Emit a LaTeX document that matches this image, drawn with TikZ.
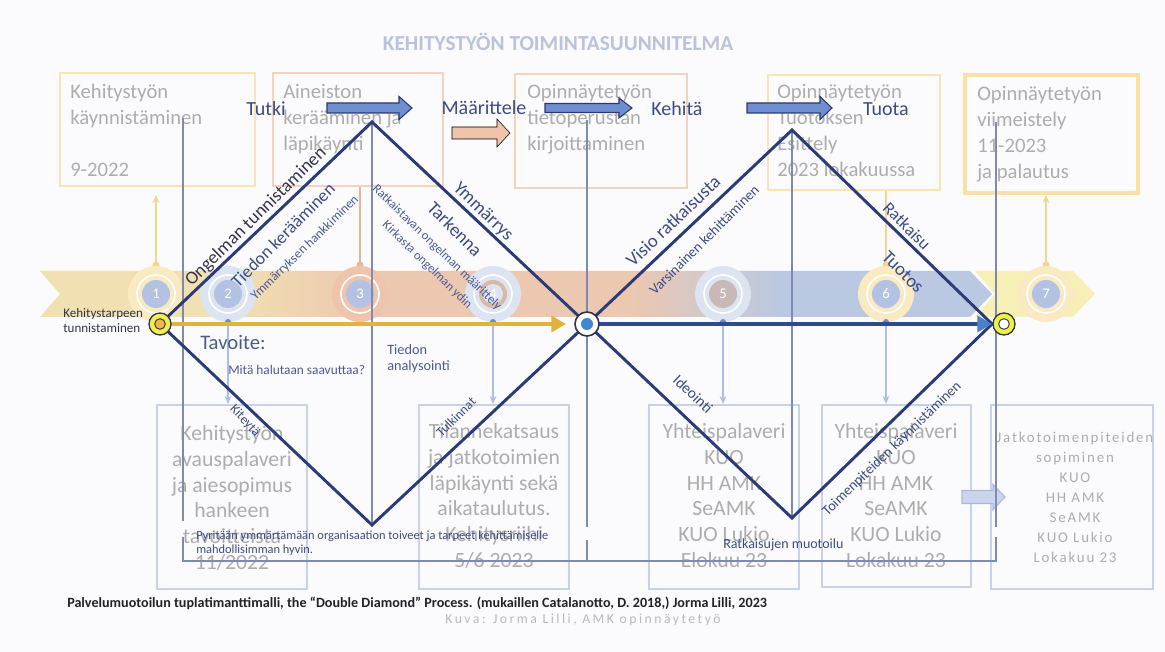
\documentclass[tikz,border=0pt]{standalone}
\usepackage{fontspec}
\setmainfont{Carlito}
\newfontfamily\spacedfont[LetterSpace=12]{Carlito}
\newfontfamily\kuvafont[LetterSpace=18]{Carlito}
\usetikzlibrary{arrows.meta}
\definecolor{bgc}{HTML}{FBFBFD}
\definecolor{navy}{HTML}{2C3A78}
\definecolor{thinl}{HTML}{7D8BB0}
\definecolor{boxtxt}{HTML}{ADADAD}
\definecolor{yelbox}{HTML}{F8E5B6}
\definecolor{yelbox2}{HTML}{F7E1A6}
\definecolor{peachbox}{HTML}{F3D2BE}
\definecolor{bluebox}{HTML}{C6D1EA}
\definecolor{titlec}{HTML}{B9C3DC}
\definecolor{lblc}{HTML}{3D4B86}
\definecolor{lblc2}{HTML}{4A5A98}
\definecolor{darklbl}{HTML}{33364A}
\definecolor{softlbl}{HTML}{4E5C8C}
\definecolor{bandY}{HTML}{F1E0B2}
\definecolor{bandP}{HTML}{ECC8B0}
\definecolor{bandB}{HTML}{BAC8E2}
\definecolor{bandY2}{HTML}{F6EFB6}
\definecolor{ringY}{HTML}{F9EAC2}
\definecolor{ringP}{HTML}{EEC4AC}
\definecolor{ringB}{HTML}{DCE4F2}
\definecolor{discB}{HTML}{B3C2E2}
\definecolor{discP}{HTML}{D9B8A4}
\definecolor{discG}{HTML}{C8B9B8}
\definecolor{stemY}{HTML}{F3D78E}
\definecolor{stemP}{HTML}{E9B598}
\definecolor{stemB}{HTML}{A9C0E2}
\definecolor{stemBd}{HTML}{6C8CC4}
\definecolor{goldl}{HTML}{E0B33C}
\definecolor{bluel}{HTML}{2F4B8E}
\definecolor{bluetip}{HTML}{4A7FD0}
\definecolor{arrB}{HTML}{6F8ECF}
\definecolor{arrBd}{HTML}{2A3A70}
\definecolor{arrP}{HTML}{EEC3AA}
\definecolor{arrL}{HTML}{CBD6EC}
\definecolor{arrLd}{HTML}{A9B9DD}
\definecolor{capc}{HTML}{222228}
\definecolor{kuvac}{HTML}{B9B9B9}
\definecolor{startY}{HTML}{EEF04A}
\definecolor{startO}{HTML}{F0B840}
\definecolor{centB}{HTML}{3F88D0}
\pgfdeclarehorizontalshading{bandshade}{100bp}{color(0bp)=(bandY); color(25bp)=(bandY); color(35bp)=(bandY); color(42bp)=(bandP); color(56bp)=(bandP); color(64bp)=(bandB); color(75bp)=(bandB); color(100bp)=(bandB)}
\newcommand{\blockarr}[7]{%
  \draw[#7] (#1,#3-#4) -- (#2-#6,#3-#4) -- (#2-#6,#3-#5) -- (#2,#3) -- (#2-#6,#3+#5) -- (#2-#6,#3+#4) -- (#1,#3+#4) -- cycle;}
\newcommand{\stepcirc}[6]{%
  \fill[#3] (#2,294) circle[radius=28];
  \draw[white, line width=1.2pt] (#2,294) circle[radius=19];
  \fill[#4] (#2,294) circle[radius=14];
  \fill[#5] (#2,294) circle[radius=10];
  \node[numtxt] (#1) at (#2,294) {#6};}
\begin{document}
\begin{tikzpicture}[x=0.75pt, y=-0.75pt,
  tbox/.style 2 args={draw, minimum width=#1*0.75pt, minimum height=#2*0.75pt, inner sep=0pt},
  toptxt/.style={text=boxtxt, inner sep=0pt, anchor=north west, align=left, font=\fontsize{15.5}{19.5}\selectfont},
  bottxt/.style={text=boxtxt, inner sep=0pt, anchor=north, align=center, font=\fontsize{16.3}{19.4}\selectfont},
  phase/.style={text=lblc, inner sep=0pt, font=\fontsize{15}{17}\selectfont},
  numtxt/.style={text=white, inner sep=0pt, font=\fontsize{11}{13}\selectfont},
  dlbl/.style={text=lblc, inner sep=0pt},
  thin/.style={thinl, line width=0.9pt},
  dia/.style={navy, line width=2.2pt, line join=miter},
  stem/.style={line width=1.2pt}
]
\fill[bgc] (0,0) rectangle (1165,652);
\useasboundingbox (0,0) rectangle (1165,652);

% title
\node[text=titlec, font=\bfseries\fontsize{16}{18}\selectfont, inner sep=0pt] (title) at (558,42) {KEHITYSTYÖN TOIMINTASUUNNITELMA};

% top boxes
\node[tbox={195}{113}, draw=yelbox, line width=1.5pt] (b1) at (157.5,129.5) {};
\node[tbox={170}{113}, draw=peachbox, line width=1.5pt] (b2) at (358,129.5) {};
\node[tbox={172}{114}, draw=peachbox, line width=1.5pt] (b3) at (601,131) {};
\node[tbox={172}{115}, draw=yelbox, line width=1.5pt] (b4) at (854,132.5) {};
\node[tbox={173}{118}, draw=yelbox2, line width=3.5pt] (b5) at (1051.5,134) {};
\node[toptxt] (t1) at (70,84) {Kehitystyön\\käynnistäminen\\\mbox{}\\9-2022};
\node[toptxt] (t2) at (283,84) {Aineiston\\kerääminen ja\\läpikäynti};
\node[toptxt] (t3) at (527,84) {Opinnäytetyön\\tietoperustan\\kirjoittaminen};
\node[toptxt] (t4) at (777,84) {Opinnäytetyön\\Tuotoksen\\Esittely\\2023 lokakuussa};
\node[toptxt] (t5) at (977,86) {Opinnäytetyön\\viimeistely\\11-2023\\ja palautus};

% bottom boxes
\node[tbox={150}{184}, draw=bluebox, line width=1.5pt] (c1) at (232,497) {};
\node[tbox={150}{184}, draw=bluebox, line width=1.5pt] (c2) at (494,497) {};
\node[tbox={150}{184}, draw=bluebox, line width=1.5pt] (c3) at (724,497) {};
\node[tbox={149}{182}, draw=bluebox, line width=1.5pt] (c4) at (896.5,496) {};
\node[tbox={162}{184}, draw=bluebox, line width=1.5pt] (c5) at (1072,497) {};
\node[bottxt] (u1) at (232,425) {Kehitystyön\\avauspalaveri\\ja aiesopimus\\hankeen\\tavoitteista\\11/2022};
\node[bottxt] (u2) at (494,423) {Tilannekatsaus\\ja jatkotoimien\\läpikäynti sekä\\aikataulutus.\\Kehitysriihi\\5/6 2023};
\node[bottxt] (u3) at (724,423) {Yhteispalaveri\\KUO\\HH AMK\\SeAMK\\KUO Lukio\\Elokuu 23};
\node[bottxt] (u4) at (896,423) {Yhteispalaveri\\KUO\\HH AMK\\SeAMK\\KUO Lukio\\Lokakuu 23};
\node[text=boxtxt, inner sep=0pt, anchor=north, align=center, font=\spacedfont\fontsize{11.2}{15}\selectfont] (u5) at (1075,432) {Jatkotoimenpiteiden\\sopiminen\\KUO\\HH AMK\\SeAMK\\KUO Lukio\\Lokakuu 23};

% block arrows
\blockarr{327}{412}{108}{5}{11.5}{13}{fill=arrB, draw=arrBd, line width=0.8pt}
\blockarr{545}{632}{108}{4.5}{10}{13}{fill=arrB, draw=arrBd, line width=0.8pt}
\blockarr{747}{832}{108}{5}{11.5}{12}{fill=arrB, draw=arrBd, line width=0.8pt}
\blockarr{452}{510}{133}{6}{14}{13}{fill=arrP}
\blockarr{962}{1005}{497}{6.5}{12.5}{12}{fill=arrL, draw=arrLd, line width=0.8pt}
\node[phase] (p1) at (266,109) {Tutki};
\node[phase] (p2) at (484,108) {Määrittele};
\node[phase] (p3) at (677,109) {Kehitä};
\node[phase] (p4) at (886,109) {Tuota};

% band
\fill[bandY2] (975,271) -- (1073,271) -- (1095,294) -- (1073,317) -- (975,317) -- (995,294) -- cycle;
\shade[shading=bandshade] (40,271) -- (970,271) -- (992,294) -- (970,317) -- (40,317) -- (60,294) -- cycle;

% stems up
\coordinate (s1b) at (156,265); \coordinate (s1t) at (156,195);
\coordinate (s3b) at (360,265); \coordinate (s3t) at (360,187);
\coordinate (s6b) at (886,265); \coordinate (s6t) at (886,191);
\coordinate (s7b) at (1046,265); \coordinate (s7t) at (1046,195);
\draw[stemY, stem, -{Stealth[length=6pt,width=5pt]}] (s1b) -- (s1t);
\draw[stemP, stem] (s3b) -- (s3t);
\draw[stemY, stem] (s6b) -- (s6t);
\draw[stemY, stem, -{Stealth[length=6pt,width=5pt]}] (s7b) -- (s7t);
\fill[stemY] (s1b) circle[radius=3.5];
\fill[stemP] (s3b) circle[radius=3.5];
\fill[stemY] (s6b) circle[radius=3.5];
\fill[stemY] (s7b) circle[radius=3.5];

% circles
\stepcirc{n1}{156}{ringY}{discB}{discB}{1}
\stepcirc{n2}{228}{ringB}{discB}{discB}{2}
\stepcirc{n3}{360}{ringP}{discB}{discB}{3}
\stepcirc{n4}{493}{ringB}{discP}{ringB}{4}
\stepcirc{n5}{723}{ringB}{discG}{discG}{5}
\stepcirc{n6}{886}{ringY}{discB}{discB}{6}
\stepcirc{n7}{1046}{ringY}{discB}{discB}{7}

% stems down
\foreach \nm/\xx in {d2/228, d4/493, d5/723, d6/886}{
  \coordinate (\nm b) at (\xx,322); \coordinate (\nm t) at (\xx,404);
  \draw[stemB, stem, -{Stealth[length=6pt,width=5pt]}] (\nm b) -- (\nm t);
  \fill[stemBd] (\nm b) circle[radius=3];
}

% thin vertical lines and bracket
\coordinate (v1a) at (183,118); \coordinate (v1b) at (183,521);
\coordinate (v1c) at (183,537); \coordinate (k1) at (183,561);
\coordinate (v3a) at (587,120); \coordinate (v3b) at (587,527);
\coordinate (v3c) at (587,540); \coordinate (k3) at (587,561);
\coordinate (v5a) at (996,122); \coordinate (v5b) at (996,527);
\coordinate (v5c) at (996,537); \coordinate (k5) at (996,561);
\draw[thin] (v1a) -- (v1b);
\draw[thin] (v3a) -- (v3b);
\draw[thin] (v3c) -- (k3);
\draw[thin] (v5a) -- (v5b);
\draw[thin] (v1c) -- (k1) -- (k5) -- (v5c);

% diamonds
\coordinate (L1) at (160,324); \coordinate (T1) at (372,122);
\coordinate (R1) at (587,324); \coordinate (B1) at (372,525);
\coordinate (T2) at (792,130); \coordinate (R2) at (992,324);
\coordinate (B2) at (792,518);
\draw[thin] (T1) -- (B1);
\draw[thin] (T2) -- (B2);
\draw[dia] (L1) -- (T1) -- (R1) -- (B1) -- cycle;
\draw[dia] (R1) -- (T2) -- (R2) -- (B2) -- cycle;

% main line
\coordinate (g1) at (168,324); \coordinate (g2) at (566,324);
\coordinate (h1) at (599,324); \coordinate (h2) at (992,324);
\draw[goldl, line width=3pt, -{Triangle[length=11pt,width=12pt]}] (g1) -- (g2);
\draw[bluel, line width=3.2pt, -{Triangle[length=11pt,width=12pt,color=bluetip]}] (h1) -- (h2);
% start / center / end markers
\node[circle, draw=darklbl, line width=1pt, fill=startY, minimum size=16.5pt, inner sep=0pt] (start) at (L1) {};
\node[circle, draw=darklbl, line width=0.7pt, fill=startO, minimum size=8pt, inner sep=0pt] (startin) at (L1) {};
\node[circle, draw=darklbl, line width=1.2pt, fill=white, minimum size=18pt, inner sep=0pt] (center) at (R1) {};
\node[circle, fill=centB, minimum size=9pt, inner sep=0pt] (centerin) at (R1) {};
\node[circle, draw=darklbl, line width=1pt, fill=startY, minimum size=16.5pt, inner sep=0pt] (endc) at (1004,324) {};
\node[circle, draw=darklbl, line width=0.7pt, fill=white, minimum size=8pt, inner sep=0pt] (endin) at (1004,324) {};

% diamond labels
\node[dlbl, text=darklbl, rotate=44.5, font=\fontsize{13.8}{15}\selectfont] (l1) at (256,217) {Ongelman tunnistaminen};
\node[dlbl, rotate=45, font=\fontsize{13.3}{15}\selectfont] (l2) at (283,235) {Tiedon kerääminen};
\node[dlbl, text=lblc2, rotate=44, font=\fontsize{9.8}{11}\selectfont] (l3) at (305,248) {Ymmärryksen hankkiminen};
\node[dlbl, rotate=-44, font=\fontsize{14}{15}\selectfont] (l4) at (483,212) {Ymmärrys};
\node[dlbl, rotate=-45, font=\fontsize{14}{15}\selectfont] (l5) at (455,229) {Tarkenna};
\node[dlbl, text=lblc2, rotate=-44, font=\fontsize{9.5}{11}\selectfont] (l6) at (437,248) {Ratkaistavan ongelman määrittely};
\node[dlbl, text=lblc2, rotate=-44, font=\fontsize{9.5}{11}\selectfont] (l7) at (427,265) {Kirkasta ongelman ydin};
\node[dlbl, rotate=43.5, font=\fontsize{14}{15}\selectfont] (l8) at (673,221) {Visio ratkaisusta};
\node[dlbl, rotate=45, font=\fontsize{10.8}{12}\selectfont] (l9) at (704,240) {Varsinainen kehittäminen};
\node[dlbl, rotate=-45, font=\fontsize{13}{15}\selectfont] (l10) at (907,226) {Ratkaisu};
\node[dlbl, rotate=-45, font=\fontsize{14}{15}\selectfont] (l11) at (903,272) {Tuotos};
\node[dlbl, rotate=-43, font=\fontsize{11.5}{13}\selectfont] (l12) at (693,394) {Ideointi};
\node[dlbl, rotate=-47, font=\fontsize{10}{12}\selectfont] (l13) at (245,421) {Kiteytä};
\node[dlbl, rotate=45, font=\fontsize{10}{12}\selectfont] (l14) at (456,417) {Tulkinnat};
\node[dlbl, rotate=44, font=\fontsize{10.8}{12}\selectfont] (l15) at (892,449) {Toimenpiteiden käynnistäminen};

% other texts
\node[text=darklbl, inner sep=0pt, anchor=north west, align=left, font=\fontsize{9.8}{11.5}\selectfont] (kt) at (63,308) {Kehitystarpeen\\tunnistaminen};
\node[text=softlbl, inner sep=0pt, anchor=west, font=\fontsize{15.5}{17}\selectfont] (tav) at (200,342) {Tavoite:};
\node[text=lblc2, inner sep=0pt, anchor=west, font=\fontsize{10}{12}\selectfont] (mita) at (228,370) {Mitä halutaan saavuttaa?};
\node[text=lblc2, inner sep=0pt, anchor=north west, align=left, font=\fontsize{10.7}{12.5}\selectfont] (tied) at (387,344) {Tiedon\\analysointi};
\node[text=lblc, inner sep=0pt, anchor=north west, align=left, font=\fontsize{9.3}{10.5}\selectfont] (pyr) at (196,531) {Pyritään ymmärtämään organisaation toiveet ja tarpeet kehittämiselle\\mahdollisimman hyvin.};
\node[text=lblc, inner sep=0pt, anchor=west, font=\fontsize{10.5}{12}\selectfont] (ratm) at (723,545) {Ratkaisujen muotoilu};
\node[text=capc, inner sep=0pt, anchor=west, font=\bfseries\fontsize{10.6}{12}\selectfont] (cap) at (67,603) {Palvelumuotoilun tuplatimanttimalli, the “Double Diamond” Process. (mukaillen Catalanotto, D. 2018,) Jorma Lilli, 2023};
\node[text=kuvac, inner sep=0pt, font=\kuvafont\fontsize{10.3}{12}\selectfont] (kuva) at (583,620) {Kuva: Jorma Lilli, AMK opinnäytetyö};
\end{tikzpicture}
\end{document}
